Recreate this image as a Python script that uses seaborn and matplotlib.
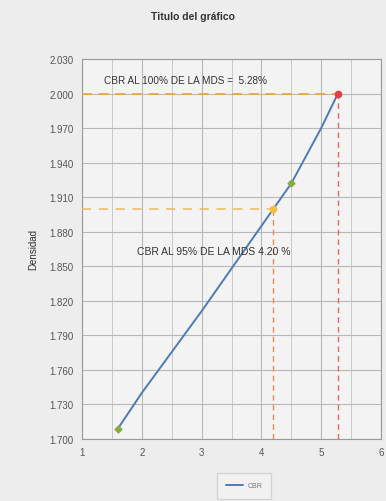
import matplotlib
matplotlib.use("Agg")
import matplotlib.pyplot as plt
import seaborn as sns
import pandas as pd
from matplotlib.ticker import FormatStrFormatter, MultipleLocator

# Data
cbr_x = [1.6, 2.0, 3.0, 4.0, 4.5, 5.0, 5.28]
cbr_y = [1.709, 1.740, 1.811, 1.885, 1.922, 1.970, 2.000]
marker_x = [1.6, 4.5]
marker_y = [1.709, 1.922]
mds100_x = 5.28
mds100_y = 2.000
mds95_x = 4.20
mds95_y = 1.900
x_ticks = [1, 2, 3, 4, 5, 6]
y_ticks = [1.700, 1.730, 1.760, 1.790, 1.820, 1.850, 1.880, 1.910, 1.940, 1.970, 2.000, 2.030]
title = "Titulo del gráfico"
ylabel = "Densidad"
text100 = "CBR AL 100% DE LA MDS =  5.28%"
text95 = "CBR AL 95% DE LA MDS 4.20 %"
series_name = "CBR"

sns.set_theme(style="white")
plt.rcParams['font.family'] = ['Liberation Sans', 'DejaVu Sans']

fig = plt.figure(figsize=(3.86, 5.02), dpi=100, facecolor="#ededed")
ax = fig.add_axes([82/386, 1-440/502, (381-82)/386, (440-60)/502])
ax.set_facecolor("#f3f3f3")

df = pd.DataFrame({"x": cbr_x, "y": cbr_y})
sns.lineplot(data=df, x="x", y="y", ax=ax, color="#4f7ab8", linewidth=1.4,
             sort=True, label=series_name, legend=False)
ax.plot(marker_x, marker_y, linestyle="none", marker="D", markersize=3.5,
        color="#8aab3c", zorder=5)

# reference dashed lines
ax.plot([1, mds100_x], [mds100_y, mds100_y], color="#e8a23a", linestyle=(0, (6, 4)), linewidth=1.2, zorder=3)
ax.plot([mds100_x, mds100_x], [1.700, mds100_y], color="#e06a5a", linestyle=(0, (4, 3)), linewidth=1.0, zorder=3)
ax.plot([1, mds95_x], [mds95_y, mds95_y], color="#f0b860", linestyle=(0, (6, 5)), linewidth=1.1, zorder=3)
ax.plot([mds95_x, mds95_x], [1.700, mds95_y], color="#e88a5a", linestyle=(0, (4, 3)), linewidth=1.0, zorder=3)
ax.plot([mds100_x], [mds100_y], marker="o", markersize=4.5, color="#e0404a", linestyle="none", zorder=6)
ax.plot([mds95_x], [mds95_y], marker="o", markersize=4.5, color="#f2c040", linestyle="none", zorder=6)

ax.set_xlim(1, 6)
ax.set_ylim(1.700, 2.030)
ax.set_xticks(x_ticks)
ax.set_yticks(y_ticks)
ax.xaxis.set_minor_locator(MultipleLocator(0.5))
ax.yaxis.set_major_formatter(FormatStrFormatter("%.3f"))
ax.grid(True, which="major", color="#b8b8b8", linewidth=0.8)
ax.grid(True, which="minor", axis="x", color="#c8c8c8", linewidth=0.7)
ax.tick_params(axis="both", labelsize=7, colors="#555555", length=0, pad=6)
for s in ax.spines.values():
    s.set_color("#999999")
    s.set_linewidth(0.8)
ax.set_xlabel("")
ax.set_ylabel(ylabel, fontsize=7, color="#333333", labelpad=8)

ax.text(0.345, 0.945, text100, transform=ax.transAxes, fontsize=7.2, color="#333333",
        ha="center", va="center")
ax.text(0.44, 0.495, text95, transform=ax.transAxes, fontsize=7.5, color="#333333",
        ha="center", va="center")

fig.text(0.5, 1-17/502, title, ha="center", va="center", fontsize=7.5,
         fontweight="bold", color="#333333")

handles, labels = ax.get_legend_handles_labels()
leg = fig.legend(handles, labels, loc="center", bbox_to_anchor=(244/386, 1-487/502),
                 fontsize=5, frameon=True, fancybox=False, edgecolor="#cccccc",
                 facecolor="#f3f3f3", handlelength=2.5, borderpad=1.3,
                 borderaxespad=0, handletextpad=0.6)
leg.get_frame().set_boxstyle("square", pad=0.0)
for t in leg.get_texts():
    t.set_color("#777777")

fig.savefig("out.png", dpi=100, facecolor=fig.get_facecolor())
